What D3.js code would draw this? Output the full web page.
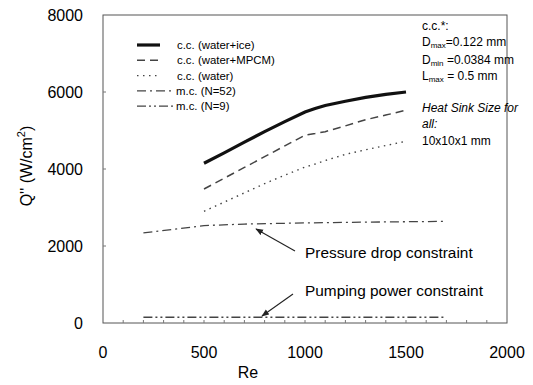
<!DOCTYPE html>
<html>
<head>
<meta charset="utf-8">
<script src="https://cdn.jsdelivr.net/npm/d3@7"></script>
<style>
  body { margin: 0; background: #fff; }
  svg { font-family: "Liberation Sans", Arial, sans-serif; }
</style>
</head>
<body>
<div id="chart"></div>
<script>
// Heat flux vs Re
const reCC = [500, 600, 700, 800, 900, 1000, 1050, 1100, 1200, 1300, 1400, 1500];
const qIce = [4150, 4420, 4700, 4970, 5230, 5480, 5570, 5650, 5760, 5860, 5940, 6000];
const qMpcm = [3480, 3760, 4040, 4320, 4600, 4880, 4920, 4970, 5120, 5280, 5400, 5530];
const qWater = [2900, 3140, 3380, 3620, 3840, 4050, 4130, 4220, 4380, 4500, 4610, 4720];
const reMC = [200, 500, 700, 1000, 1300, 1700];
const qN52 = [2340, 2530, 2570, 2600, 2620, 2640];
const qN9 = [150, 150, 150, 150, 150, 150];

const seriesNames = ["c.c. (water+ice)", "c.c. (water+MPCM)", "c.c. (water)", "m.c. (N=52)", "m.c. (N=9)"];
const xTicks = [0, 500, 1000, 1500, 2000];
const yTicks = [0, 2000, 4000, 6000, 8000];

const W = 533, H = 385;
const margin = { top: 15, right: 26, bottom: 62, left: 103 };

const svg = d3.select("#chart").append("svg")
    .attr("width", W).attr("height", H);

const x = d3.scaleLinear().domain([0, 2000]).range([margin.left, W - margin.right]);
const y = d3.scaleLinear().domain([0, 8000]).range([H - margin.bottom, margin.top]);

// frame
svg.append("rect")
    .attr("x", x(0)).attr("y", y(8000))
    .attr("width", x(2000) - x(0)).attr("height", y(0) - y(8000))
    .attr("fill", "none").attr("stroke", "#555").attr("stroke-width", 1);

// minor ticks on bottom (inside)
svg.append("g").selectAll("line")
    .data(d3.range(100, 2000, 100))
    .join("line")
    .attr("x1", d => x(d)).attr("x2", d => x(d))
    .attr("y1", y(0)).attr("y2", y(0) - 3)
    .attr("stroke", "#777");

// major y ticks (inside)
svg.append("g").selectAll("line")
    .data(yTicks.slice(1, -1))
    .join("line")
    .attr("x1", x(0)).attr("x2", x(0) + 3)
    .attr("y1", d => y(d)).attr("y2", d => y(d))
    .attr("stroke", "#777");

// tick labels
svg.append("g").selectAll("text")
    .data(xTicks).join("text")
    .attr("x", d => x(d)).attr("y", y(0) + 35)
    .attr("text-anchor", "middle")
    .attr("font-size", 16)
    .text(d => d);

svg.append("g").selectAll("text")
    .data(yTicks).join("text")
    .attr("x", x(0) - 20).attr("y", d => y(d) + 6)
    .attr("text-anchor", "end")
    .attr("font-size", 16)
    .text(d => d);

// axis titles
svg.append("text")
    .attr("x", 248).attr("y", 378)
    .attr("text-anchor", "middle").attr("font-size", 16)
    .text("Re");

const yl = svg.append("text")
    .attr("transform", "translate(32,166) rotate(-90)")
    .attr("text-anchor", "middle").attr("font-size", 16);
yl.append("tspan").text("Q'' (W/cm");
yl.append("tspan").attr("font-size", 11).attr("dy", -7).text("2");
yl.append("tspan").attr("dy", 7).text(")");

// series
const styles = [
    { w: 3.2, dash: null },
    { w: 1.5, dash: "8,5" },
    { w: 1.4, dash: "1.5,4.5" },
    { w: 1.3, dash: "9,4,2,4" },
    { w: 1.3, dash: "9,3,2,3,2,3" }
];
const series = [
    { xs: reCC, ys: qIce },
    { xs: reCC, ys: qMpcm },
    { xs: reCC, ys: qWater },
    { xs: reMC, ys: qN52 },
    { xs: reMC, ys: qN9 }
];

const line = d3.line().x(d => x(d[0])).y(d => y(d[1]));

series.forEach((s, i) => {
    svg.append("path")
        .datum(s.xs.map((v, j) => [v, s.ys[j]]))
        .attr("d", line)
        .attr("fill", "none")
        .attr("stroke", i === 0 ? "#111" : "#444")
        .attr("stroke-width", styles[i].w)
        .attr("stroke-dasharray", styles[i].dash);
});

// legend
const legend = svg.append("g");
seriesNames.forEach((name, i) => {
    const ly = 45 + i * 15.3;
    const x2 = i >= 3 ? 175 : 160;
    legend.append("line")
        .attr("x1", 137).attr("x2", x2)
        .attr("y1", ly).attr("y2", ly)
        .attr("stroke", i === 0 ? "#111" : "#444")
        .attr("stroke-width", styles[i].w)
        .attr("stroke-dasharray", styles[i].dash);
    legend.append("text")
        .attr("x", i >= 3 ? 176 : 177).attr("y", ly + 4)
        .attr("font-size", 11.4)
        .text(name);
});

// notes on the right
const note = svg.append("g").attr("font-size", 12);
note.append("text").attr("x", 422).attr("y", 30).text("c.c.*:");
function subLine(yy, main, sub, rest) {
    const t = note.append("text").attr("x", 422).attr("y", yy);
    t.append("tspan").text(main);
    t.append("tspan").attr("font-size", 8).attr("dy", 2).text(sub);
    t.append("tspan").attr("dy", -2).text(rest);
}
subLine(46, "D", "max", "=0.122 mm");
subLine(64, "D", "min", " =0.0384 mm");
subLine(80, "L", "max", " = 0.5 mm");
note.append("text").attr("x", 422).attr("y", 112).attr("font-style", "italic").text("Heat Sink Size for");
note.append("text").attr("x", 422).attr("y", 128).attr("font-style", "italic").text("all:");
note.append("text").attr("x", 422).attr("y", 145).text("10x10x1 mm");

// annotations with arrows
svg.append("defs").append("marker")
    .attr("id", "arrow").attr("viewBox", "0 0 10 10")
    .attr("refX", 9).attr("refY", 5)
    .attr("markerWidth", 7).attr("markerHeight", 7)
    .attr("orient", "auto")
    .append("path").attr("d", "M0,1 L10,5 L0,9 Z").attr("fill", "#222");

const notes = [
    { text: "Pressure drop constraint", tx: 305, ty: 258, from: [295, 251], to: [256, 229] },
    { text: "Pumping power constraint", tx: 305, ty: 296, from: [293, 294], to: [262, 316] }
];
notes.forEach(n => {
    svg.append("line")
        .attr("x1", n.from[0]).attr("y1", n.from[1])
        .attr("x2", n.to[0]).attr("y2", n.to[1])
        .attr("stroke", "#222").attr("stroke-width", 1.1)
        .attr("marker-end", "url(#arrow)");
    svg.append("text")
        .attr("x", n.tx).attr("y", n.ty)
        .attr("font-size", 15.4)
        .text(n.text);
});
</script>
</body>
</html>
